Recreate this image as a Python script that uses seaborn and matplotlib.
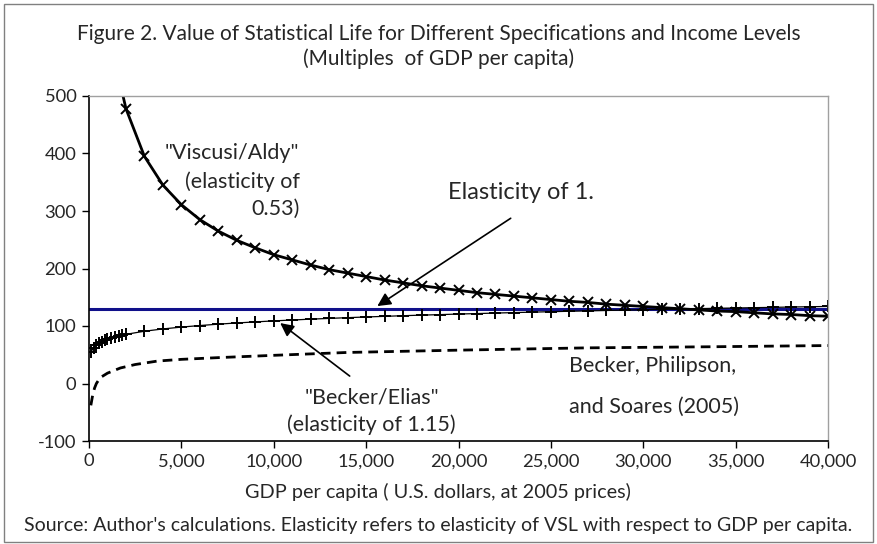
import matplotlib
matplotlib.use("Agg")
import matplotlib.pyplot as plt
import seaborn as sns
import pandas as pd
from matplotlib.patches import Rectangle

# ---- data ----
va_x = [1500, 2000, 3000, 4000, 5000, 6000, 7000, 8000, 9000, 10000, 11000, 12000,
        13000, 14000, 15000, 16000, 17000, 18000, 19000, 20000, 21000, 22000, 23000,
        24000, 25000, 26000, 27000, 28000, 29000, 30000, 31000, 32000, 33000, 34000,
        35000, 36000, 37000, 38000, 39000, 40000]
va_y = [548, 478, 395, 345, 311, 285, 265, 249, 236, 224, 215, 206, 198, 192, 186,
        180, 175, 170, 166, 162, 158, 155, 152, 149, 146, 143, 141, 138, 136, 134,
        132, 130, 128, 126, 125, 123, 121, 120, 118, 117]

be_x = [100, 250, 400, 550, 700, 850, 1000, 1200, 1400, 1600, 1800, 2000, 3000, 4000,
        5000, 6000, 7000, 8000, 9000, 10000, 11000, 12000, 13000, 14000, 15000, 16000,
        17000, 18000, 19000, 20000, 21000, 22000, 23000, 24000, 25000, 26000, 27000,
        28000, 29000, 30000, 31000, 32000, 33000, 34000, 35000, 36000, 37000, 38000,
        39000, 40000]
be_y = [54.5, 62.6, 67.2, 70.4, 73.0, 75.2, 77.1, 79.2, 81.0, 82.7, 84.2, 85.5, 90.9,
        94.9, 98.1, 100.8, 103.2, 105.3, 107.1, 108.9, 110.4, 111.9, 113.2, 114.5,
        115.7, 116.8, 117.9, 118.9, 119.8, 120.8, 121.6, 122.5, 123.3, 124.1, 124.9,
        125.6, 126.3, 127.0, 127.7, 128.3, 129.0, 129.6, 130.2, 130.8, 131.3, 131.9,
        132.4, 133.0, 133.5, 134.0]

bps_x = [100, 200, 300, 400, 600, 1000, 1700, 2500, 3700, 5000, 7000, 10000, 14000,
         20000, 27000, 34000, 40000]
bps_y = [-38, -20, -8, 0, 10, 18, 27, 33, 39, 42, 45, 49, 54, 58, 62, 64, 66]

e1_x = [0, 40000]
e1_y = [130, 130]

x_ticks = [0, 5000, 10000, 15000, 20000, 25000, 30000, 35000, 40000]
x_ticklabels = ["0", "5,000", "10,000", "15,000", "20,000", "25,000", "30,000",
                "35,000", "40,000"]
y_ticks = [-100, 0, 100, 200, 300, 400, 500]
y_ticklabels = ["-100", "0", "100", "200", "300", "400", "500"]

title = ("Figure 2. Value of Statistical Life for Different Specifications and Income Levels\n"
         "(Multiples  of GDP per capita)")
xlabel = "GDP per capita ( U.S. dollars, at 2005 prices)"
source = ("Source: Author's calculations. Elasticity refers to elasticity of VSL with "
          "respect to GDP per capita.")

# ---- plotting ----
sns.set_theme(style="white")
plt.rcParams['font.family'] = ['Lato', 'DejaVu Sans']
plt.rcParams['axes.unicode_minus'] = False

fig = plt.figure(figsize=(8.77, 5.44), dpi=100)
ax = fig.add_axes([89/877, 103/544, (828-89)/877, (441-96)/544])

df_va = pd.DataFrame({"x": va_x, "y": va_y})
df_be = pd.DataFrame({"x": be_x, "y": be_y})
df_bps = pd.DataFrame({"x": bps_x, "y": bps_y})
df_e1 = pd.DataFrame({"x": e1_x, "y": e1_y})

sns.lineplot(data=df_bps, x="x", y="y", ax=ax, color="black", lw=2.0,
             linestyle=(0, (3.5, 2.2)))
sns.lineplot(data=df_e1, x="x", y="y", ax=ax, color="#10108a", lw=2.2)
sns.lineplot(data=df_be, x="x", y="y", ax=ax, color="black", lw=0.9,
             marker="+", markersize=8, markeredgewidth=1.4,
             markeredgecolor="black")
sns.lineplot(data=df_va, x="x", y="y", ax=ax, color="black", lw=2.0,
             marker="x", markersize=7, markeredgewidth=1.4,
             markeredgecolor="black")

ax.set_xlim(0, 40000)
ax.set_ylim(-100, 500)
ax.set_xticks(x_ticks)
ax.set_xticklabels(x_ticklabels)
ax.set_yticks(y_ticks)
ax.set_yticklabels(y_ticklabels)
ax.set_xlabel(xlabel, fontsize=14.3)
ax.xaxis.set_label_coords((438 - 89) / 739, -42 / 345)
ax.set_ylabel("")
ax.tick_params(axis="both", which="major", direction="out", length=5, width=1,
               color="black", labelsize=13.2, pad=4, bottom=True, left=True)

for s in ["left", "bottom"]:
    ax.spines[s].set_color("black")
    ax.spines[s].set_linewidth(1.2)
for s in ["top", "right"]:
    ax.spines[s].set_color("#a0a0a0")
    ax.spines[s].set_linewidth(1.0)

fig.text(0.5, 1 - 46.5/544, title, ha="center", va="center", fontsize=15,
         linespacing=1.25)
fig.text(0.5, 1 - 525/544, source, ha="center", va="center", fontsize=14)

# annotations
ax.text(11400, 352, '"Viscusi/Aldy"\n(elasticity of\n0.53)', ha="right", va="center",
        fontsize=15.5, linespacing=1.45)
ax.annotate("", xy=(15480, 132), xytext=(22950, 290),
            arrowprops=dict(arrowstyle="-|>", color="black", lw=1.2, mutation_scale=20))
ax.text(23400, 332, "Elasticity of 1.", ha="center", va="center", fontsize=17)
ax.annotate("", xy=(10230, 108), xytext=(14230, 10),
            arrowprops=dict(arrowstyle="-|>", color="black", lw=1.2, mutation_scale=20))
ax.text(15300, -48, '"Becker/Elias"\n(elasticity of 1.15)', ha="center", va="center",
        fontsize=15.5, linespacing=1.45)
ax.text(26000, 31, "Becker, Philipson,", ha="left", va="center", fontsize=15.5)
ax.text(26000, -40, "and Soares (2005)", ha="left", va="center", fontsize=15.5)

fig.patches.append(Rectangle((4/877, 2/544), 869/877, 538/544, transform=fig.transFigure,
                             fill=False, edgecolor="#808080", lw=1.0))

fig.savefig("out.png", dpi=100)
